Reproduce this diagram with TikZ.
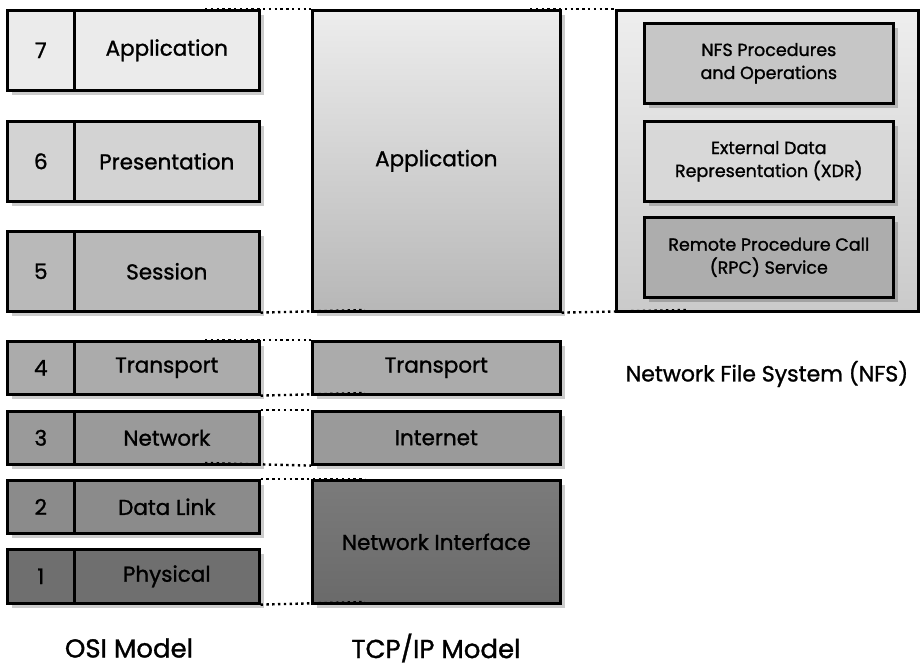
\documentclass[tikz,border=0pt]{standalone}
\usepackage{fontspec}
\setmainfont{Poppins}[BoldFont={Poppins}, BoldFeatures={FakeBold=1.2}]
\usetikzlibrary{shadows}
\definecolor{cseven}{HTML}{EBEBEB}
\definecolor{csix}{HTML}{D3D3D3}
\definecolor{cfive}{HTML}{B9B9B9}
\definecolor{cfour}{HTML}{ABABAB}
\definecolor{cthree}{HTML}{9A9A9A}
\definecolor{ctwo}{HTML}{8B8B8B}
\definecolor{cone}{HTML}{6F6F6F}
\definecolor{apptop}{HTML}{EDEDED}
\definecolor{appbot}{HTML}{B7B7B7}
\definecolor{nitop}{HTML}{7B7B7B}
\definecolor{nibot}{HTML}{6A6A6A}
\definecolor{nfstop}{HTML}{EEEEEE}
\definecolor{nfsbot}{HTML}{CACACA}
\definecolor{cproc}{HTML}{C6C6C6}
\definecolor{cxdr}{HTML}{D8D8D8}
\definecolor{crpc}{HTML}{ADADAD}
\begin{document}
\begin{tikzpicture}[x=1pt,y=-1pt,
  box/.style={draw=black, line width=2.6pt, inner sep=0pt, anchor=north west,
    drop shadow={shadow xshift=5pt, shadow yshift=-5pt, fill=black, opacity=0.2}},
  numcell/.style={box, minimum width=67pt, font=\fontsize{21.5}{25}\selectfont\bfseries},
  labcell/.style={box, minimum width=185pt, font=\fontsize{21.5}{25}\selectfont\bfseries},
  tcpbox/.style={box, minimum width=248pt, font=\fontsize{21.5}{25}\selectfont\bfseries},
  inbox/.style={box, minimum width=249pt, minimum height=80pt, align=center,
    font=\fontsize{17.5}{23}\selectfont\bfseries},
  dots/.style={line width=2.4pt, dash pattern=on 2.4pt off 3.4pt},
  caption/.style={inner sep=1pt, font=\fontsize{26}{30}\selectfont\bfseries}
]
\useasboundingbox (0,0) rectangle (920,666);
\fill[white] (0,0) rectangle (920,666);

% OSI model
\node[numcell, minimum height=80pt, fill=cseven] (n7) at (6,9) {7};
\node[labcell, minimum height=80pt, fill=cseven] (o7) at (73,9) {Application};
\node[numcell, minimum height=80pt, fill=csix] (n6) at (6,120) {6};
\node[labcell, minimum height=80pt, fill=csix] (o6) at (73,120) {Presentation};
\node[numcell, minimum height=80pt, fill=cfive] (n5) at (6,230) {5};
\node[labcell, minimum height=80pt, fill=cfive] (o5) at (73,230) {Session};
\node[numcell, minimum height=53pt, fill=cfour] (n4) at (6,340) {4};
\node[labcell, minimum height=53pt, fill=cfour] (o4) at (73,340) {Transport};
\node[numcell, minimum height=53pt, fill=cthree] (n3) at (6,410) {3};
\node[labcell, minimum height=53pt, fill=cthree] (o3) at (73,410) {Network};
\node[numcell, minimum height=53pt, fill=ctwo] (n2) at (6,479) {2};
\node[labcell, minimum height=53pt, fill=ctwo] (o2) at (73,479) {Data Link};
\node[numcell, minimum height=54pt, fill=cone] (n1) at (6,548) {1};
\node[labcell, minimum height=54pt, fill=cone] (o1) at (73,548) {Physical};

% TCP/IP model
\node[tcpbox, minimum height=301pt, top color=apptop, bottom color=appbot] (tapp) at (311,9) {Application};
\node[tcpbox, minimum height=53pt, fill=cfour] (ttr) at (311,340) {Transport};
\node[tcpbox, minimum height=53pt, fill=cthree] (tin) at (311,410) {Internet};
\node[tcpbox, minimum height=123pt, top color=nitop, bottom color=nibot] (tni) at (311,479) {Network Interface};

% NFS
\node[draw=black, line width=2.6pt, inner sep=0pt, anchor=north west,
  minimum width=302pt, minimum height=301pt, top color=nfstop, bottom color=nfsbot] (nfs) at (615,9) {};
\node[inbox, fill=cproc] (proc) at (643,22) {NFS Procedures\\and Operations};
\node[inbox, fill=cxdr] (xdr) at (643,120) {External Data\\Representation (XDR)};
\node[inbox, fill=crpc] (rpc) at (643,216) {Remote Procedure Call\\(RPC) Service};

% captions
\node[caption] (cosi) at (129,648) {OSI Model};
\node[caption] (ctcp) at (436,648) {TCP/IP Model};
\node[font=\fontsize{22}{26}\selectfont\bfseries] (cnfs) at (767,374) {Network File System (NFS)};

% dotted guide lines
\coordinate (d1) at (205,9);
\draw[dots] (d1) -- (tapp.north west);
\coordinate (d2) at (530,9);
\draw[dots] (d2) -- (nfs.north west);
\coordinate (d3) at (365,310);
\draw[dots] (o5.south east) -- (d3);
\coordinate (d4) at (687,310);
\draw[dots] (tapp.south east) -- (d4);
\coordinate (d5) at (205,340);
\draw[dots] (d5) -- (ttr.north west);
\coordinate (d6) at (365,393);
\draw[dots] (o4.south east) -- (d6);
\draw[dots] (o3.north east) -- (tin.north west);
\coordinate (d8) at (205,463);
\draw[dots] (d8) -- (tin.south west);
\coordinate (d9) at (365,479);
\draw[dots] (o2.north east) -- (d9);
\coordinate (d10) at (365,602);
\draw[dots] (o1.south east) -- (d10);
\end{tikzpicture}
\end{document}
